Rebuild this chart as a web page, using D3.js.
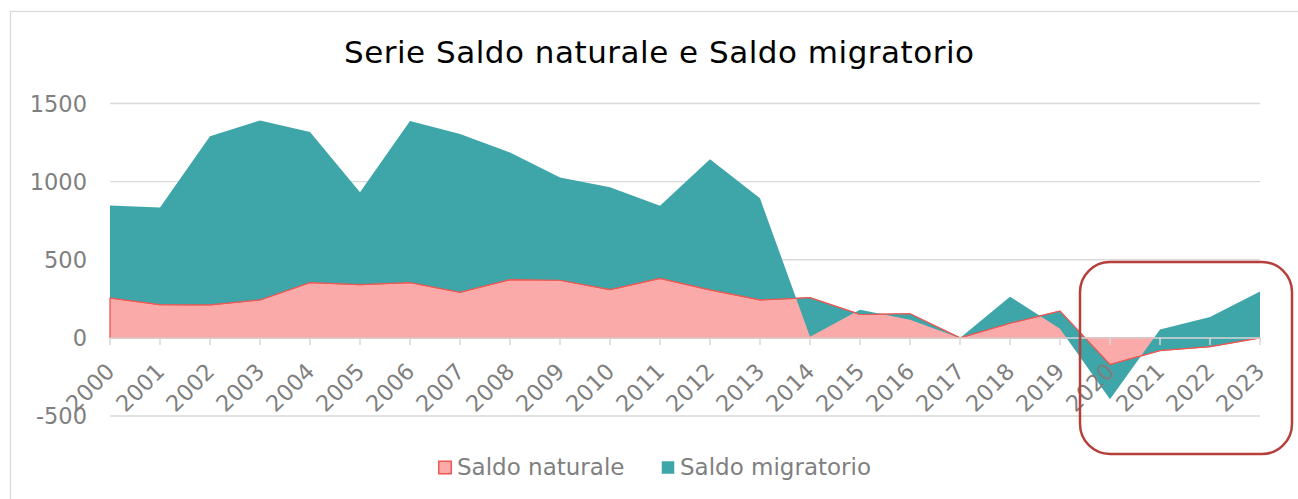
<!DOCTYPE html>
<html>
<head>
<meta charset="utf-8">
<script src="https://cdn.jsdelivr.net/npm/d3@7"></script>
<style>
  html, body { margin: 0; padding: 0; background: #ffffff; }
  svg { display: block; font-family: "DejaVu Sans", Verdana, sans-serif; }
</style>
</head>
<body>
<svg id="chart" width="1298" height="499"></svg>
<script>
// Years on the category axis
const years = ["2000","2001","2002","2003","2004","2005","2006","2007","2008","2009","2010","2011",
               "2012","2013","2014","2015","2016","2017","2018","2019","2020","2021","2022","2023"];

// Natural balance (births minus deaths)
const saldoNaturale = [255, 213, 211, 243, 354, 341, 354, 292, 373, 369, 309, 381,
                       307, 243, 257, 150, 154, 0, 94, 171, -171, -81, -56, 0];

// Migration balance, stacked on top of the natural balance
const saldoMigratorio = [592, 621, 1079, 1149, 964, 591, 1034, 1013, 813, 657, 655, 464,
                         836, 650, -249, 30, -38, 0, 170, -113, -221, 134, 189, 297];

const yTicks = [-500, 0, 500, 1000, 1500];
const seriesNames = ["Saldo naturale", "Saldo migratorio"];
const chartTitle = "Serie Saldo naturale e Saldo migratorio";

const W = 1298, H = 499;
const plot = { left: 110, right: 1260, top: 103.5, bottom: 416 };

const colors = {
  natFill: "#faaba9",
  natStroke: "#ef5752",
  migFill: "#3ea5a8",
  grid: "#d9d9d9",
  text: "#7f7f7f",
  highlight: "#b5403b"
};

const svg = d3.select("#chart");

// Outer chart frame
svg.append("rect")
  .attr("x", 10.5).attr("y", 11.5)
  .attr("width", W + 20).attr("height", H + 20)
  .attr("fill", "#ffffff")
  .attr("stroke", colors.grid).attr("stroke-width", 1.3);

const x = d3.scalePoint().domain(years).range([plot.left, plot.right]);
const y = d3.scaleLinear().domain([-500, 1500]).range([plot.bottom, plot.top]);

// Title
svg.append("text")
  .attr("x", 659).attr("y", 63)
  .attr("text-anchor", "middle")
  .attr("font-size", 31)
  .attr("textLength", 630)
  .attr("lengthAdjust", "spacing")
  .attr("fill", "#000000")
  .text(chartTitle);

// Horizontal gridlines
svg.append("g")
  .selectAll("line")
  .data(yTicks.filter(d => d !== 0))
  .join("line")
  .attr("x1", plot.left).attr("x2", plot.right)
  .attr("y1", d => y(d)).attr("y2", d => y(d))
  .attr("stroke", colors.grid).attr("stroke-width", 1.3);

// Y-axis labels
svg.append("g")
  .selectAll("text")
  .data(yTicks)
  .join("text")
  .attr("x", 87)
  .attr("y", d => y(d) + 8)
  .attr("text-anchor", "end")
  .attr("font-size", 22.5)
  .attr("fill", colors.text)
  .text(d => d);

// Stacked rows
const rows = years.map((yr, i) => ({
  year: yr,
  nat: saldoNaturale[i],
  top: saldoNaturale[i] + saldoMigratorio[i]
}));

// Natural balance area (from zero)
const natArea = d3.area()
  .x(d => x(d.year))
  .y0(y(0))
  .y1(d => y(d.nat));

svg.append("path")
  .datum(rows)
  .attr("d", natArea)
  .attr("fill", colors.natFill)
  .attr("stroke", colors.natStroke)
  .attr("stroke-width", 1.3)
  .attr("stroke-linejoin", "round");

// Migration balance area (between natural balance and cumulative total)
const migArea = d3.area()
  .x(d => x(d.year))
  .y0(d => y(d.nat))
  .y1(d => y(d.top));

svg.append("path")
  .datum(rows)
  .attr("d", migArea)
  .attr("fill", colors.migFill);

// Border of the natural balance line, kept visible above the stacked band
svg.append("path")
  .datum(rows)
  .attr("d", d3.line().x(d => x(d.year)).y(d => y(d.nat)))
  .attr("fill", "none")
  .attr("stroke", colors.natStroke)
  .attr("stroke-width", 1.1);

// Category axis at zero with ticks
const axisG = svg.append("g");
axisG.append("line")
  .attr("x1", plot.left).attr("x2", plot.right)
  .attr("y1", y(0)).attr("y2", y(0))
  .attr("stroke", colors.grid).attr("stroke-width", 1.5);

axisG.selectAll("line.tick")
  .data(years)
  .join("line")
  .attr("class", "tick")
  .attr("x1", d => x(d)).attr("x2", d => x(d))
  .attr("y1", y(0)).attr("y2", y(0) + 7)
  .attr("stroke", colors.grid).attr("stroke-width", 1.5);

axisG.selectAll("text")
  .data(years)
  .join("text")
  .attr("transform", d => `translate(${x(d) + 6},${y(0) + 35}) rotate(-45)`)
  .attr("text-anchor", "end")
  .attr("font-size", 22.5)
  .attr("fill", colors.text)
  .text(d => d);

// Legend
const legend = [
  { name: seriesNames[0], x: 438, fill: colors.natFill, stroke: colors.natStroke },
  { name: seriesNames[1], x: 661, fill: colors.migFill, stroke: null }
];
const lg = svg.append("g");
legend.forEach(l => {
  lg.append("rect")
    .attr("x", l.x + 0.75).attr("y", 461.25)
    .attr("width", 12.5).attr("height", 12.5)
    .attr("fill", l.fill)
    .attr("stroke", l.stroke || "none")
    .attr("stroke-width", 1.5);
  lg.append("text")
    .attr("x", l.x + 19).attr("y", 475)
    .attr("font-size", 23)
    .attr("fill", colors.text)
    .text(l.name);
});

// Highlight box around the most recent years
svg.append("rect")
  .attr("x", 1080).attr("y", 262)
  .attr("width", 212).attr("height", 192)
  .attr("rx", 30).attr("ry", 30)
  .attr("fill", "none")
  .attr("stroke", colors.highlight)
  .attr("stroke-width", 2.5);
</script>
</body>
</html>
